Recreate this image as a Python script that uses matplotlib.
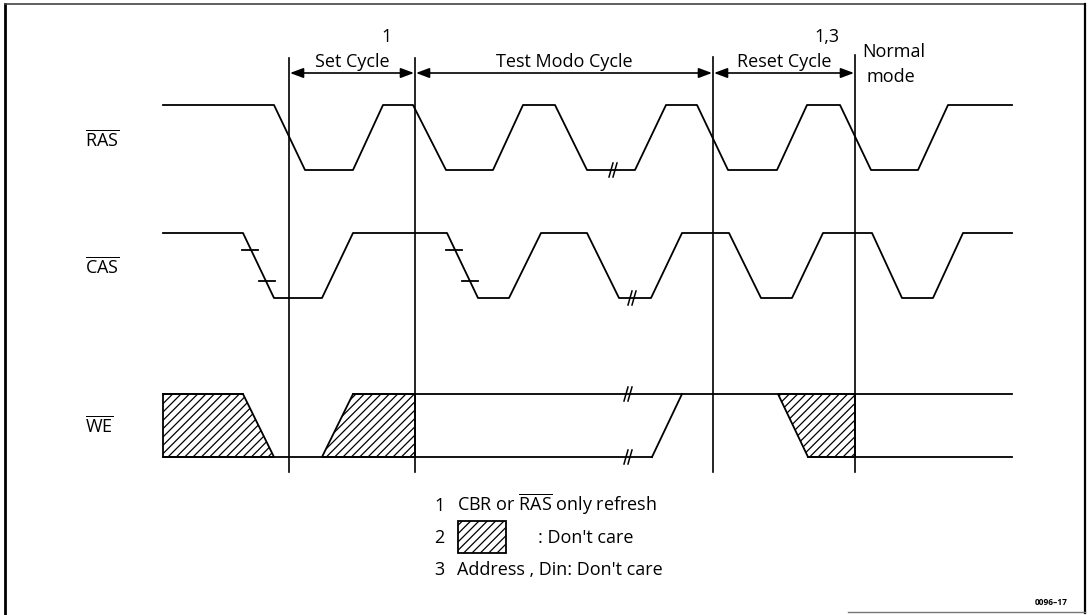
import matplotlib
matplotlib.use("Agg")
import matplotlib.pyplot as plt
from matplotlib.patches import Polygon, Rectangle

plt.rcParams['font.family'] = ['Open Sans', 'DejaVu Sans']
plt.rcParams['mathtext.fontset'] = 'custom'
plt.rcParams['mathtext.rm'] = 'Open Sans'
plt.rcParams['hatch.linewidth'] = 0.9

# waveform break points (time axis in diagram units, level 1 = high, 0 = low)
ras_t = [163, 274, 305, 353, 383, 413, 446, 493, 523, 555, 587, 635, 666, 697,
         728, 777, 807, 840, 871, 918, 948, 1012]
ras_lv = [1, 1, 0, 0, 1, 1, 0, 0, 1, 1, 0, 0, 1, 1, 0, 0, 1, 1, 0, 0, 1, 1]

cas_t = [163, 243, 274, 322, 353, 447, 478, 509, 541, 587, 619, 651, 682, 729,
         761, 792, 823, 872, 902, 933, 963, 1012]
cas_lv = [1, 1, 0, 0, 1, 1, 0, 0, 1, 1, 0, 0, 1, 1, 0, 0, 1, 1, 0, 0, 1, 1]

# WE: separate segments (high rail, low rail, transition)
we_segments = [
    ([163, 243], [1, 1]),
    ([163, 652], [0, 0]),
    ([353, 1012], [1, 1]),
    ([652, 682], [0, 1]),
    ([808, 1012], [0, 0]),
]
# don't care regions on WE
we_hatch = [
    ([163, 243, 274, 163], [1, 1, 0, 0]),
    ([322, 353, 415, 415], [0, 1, 1, 0]),
    ([778, 855, 855, 808], [1, 1, 0, 0]),
]

# cycle boundaries
cycle_bounds = [289, 415, 713, 855]
cycle_names = ["Set Cycle", "Test Modo Cycle", "Reset Cycle"]
cycle_notes = {0: "1", 2: "1,3"}

# CAS skew ticks on falling edges, break marks
cas_ticks = [(250, 1), (267, 0), (454, 1), (470, 0)]
ras_breaks = [613]
cas_breaks = [632]
we_breaks = [628]

notes = ["CBR or $\\overline{\\mathrm{RAS}}$ only refresh", ": Don't care",
         "Address , Din: Don't care"]

# lane levels (y of high / low)
lanes = {"RAS": (105, 170), "CAS": (233, 298), "WE": (394, 457)}

fig = plt.figure(figsize=(10.89, 6.15), dpi=100)
ax = fig.add_axes([0, 0, 1, 1])
ax.set_xlim(0, 1089)
ax.set_ylim(615, 0)
ax.axis('off')

lw = 1.3
fs = 13


def ylev(lane, v):
    hi, lo = lanes[lane]
    return hi if v == 1 else lo


# frame
ax.plot([5, 5], [4, 615], color='k', lw=2)
ax.plot([5, 1085], [4, 4], color='#444444', lw=1.2)
ax.plot([1085, 1085], [4, 613], color='k', lw=1.6)
ax.plot([848, 1085], [612, 612], color='#777777', lw=1)

# signals
ax.plot(ras_t, [ylev("RAS", v) for v in ras_lv], color='k', lw=lw)
ax.plot(cas_t, [ylev("CAS", v) for v in cas_lv], color='k', lw=lw)
for ts, vs in we_segments:
    ax.plot(ts, [ylev("WE", v) for v in vs], color='k', lw=lw)
for ts, vs in we_hatch:
    pts = list(zip(ts, [ylev("WE", v) for v in vs]))
    ax.add_patch(Polygon(pts, closed=True, facecolor='white', edgecolor='k',
                         hatch='////', lw=lw))

# skew ticks
for x, v in cas_ticks:
    y = 250 if v == 1 else 281
    ax.plot([x - 8, x + 8], [y, y], color='k', lw=lw)


def brk(x, y):
    for dx in (-2, 2):
        ax.plot([x + dx - 2, x + dx + 2], [y + 7, y - 7], color='k', lw=1.1)


for x in ras_breaks:
    brk(x, lanes["RAS"][1])
for x in cas_breaks:
    brk(x, lanes["CAS"][1])
for x in we_breaks:
    brk(x, lanes["WE"][0])
    brk(x, lanes["WE"][1])

# cycle boundaries and arrows
tops = [58, 58, 57, 55]
for x, t in zip(cycle_bounds, tops):
    ax.plot([x, x], [t, 472], color='k', lw=1.2)
for i, name in enumerate(cycle_names):
    x0, x1 = cycle_bounds[i], cycle_bounds[i + 1]
    ax.annotate("", xy=(x1 - 1, 73), xytext=(x0 + 1, 73),
                arrowprops=dict(arrowstyle='<|-|>,head_length=0.8,head_width=0.3',
                                color='k', lw=1.2, shrinkA=0, shrinkB=0))
    ax.text((x0 + x1) / 2, 67, name, ha='center', va='baseline', fontsize=fs)
    if i in cycle_notes:
        ax.text(x1 - 28, 42, cycle_notes[i], ha='center', va='baseline', fontsize=fs)
ax.text(862, 57, "Normal", ha='left', va='baseline', fontsize=fs)
ax.text(866, 82, "mode", ha='left', va='baseline', fontsize=fs)

# signal names
for name, y in zip(["RAS", "CAS", "WE"], [146, 273, 432]):
    ax.text(85, y, "$\\overline{\\mathrm{%s}}$" % name, ha='left', va='baseline',
            fontsize=fs)

# notes
for i, txt in enumerate(notes):
    y = 511 + i * 32
    ax.text(434, y, str(i + 1), ha='left', va='baseline', fontsize=fs)
    if i == 1:
        ax.add_patch(Rectangle((458, 521), 48, 32, facecolor='white', edgecolor='k',
                               hatch='////', lw=1.3))
        ax.text(538, y, txt, ha='left', va='baseline', fontsize=fs)
    else:
        ax.text(457, y, txt, ha='left', va='baseline', fontsize=fs)

ax.text(1068, 605, "0096\u201317", ha='right', va='baseline', fontsize=6,
        fontweight='bold')

fig.savefig("out.png", dpi=100)
